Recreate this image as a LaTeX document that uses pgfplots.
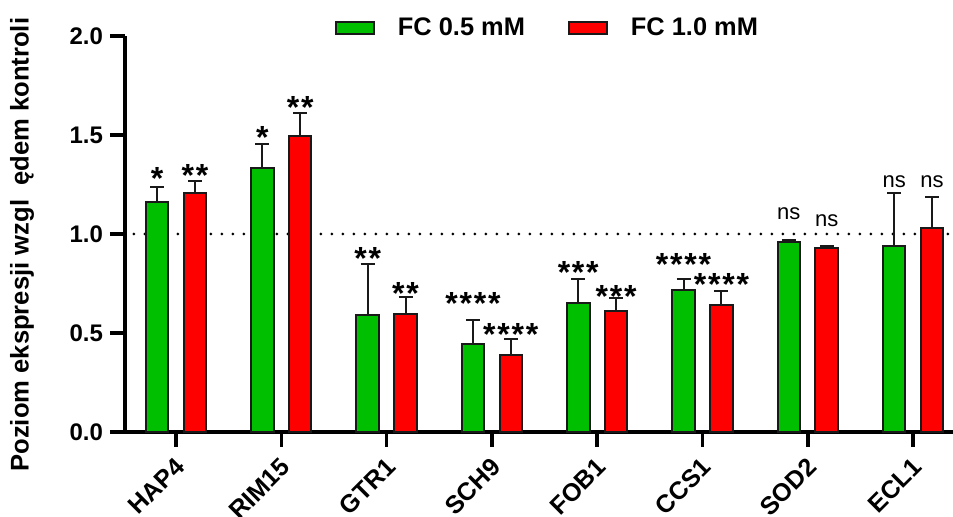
\documentclass[border=0pt]{standalone}
\usepackage{pgfplots}
\usepackage{pgfplotstable}
\pgfplotsset{compat=1.18}
\usepackage{fontspec}
\setmainfont{Liberation Sans}
\definecolor{pgreen}{RGB}{0,191,0}
\definecolor{pred}{RGB}{255,0,0}
\definecolor{edge}{RGB}{25,25,25}
\newcommand{\ns}{\mdseries\fontsize{11}{13}\selectfont ns}
\newcommand{\starfont}{\bfseries\fontsize{16}{18}\selectfont\spaceskip=0.9pt\relax}

\pgfplotstableread[col sep=comma]{
x,y,e,ly,lab
0,1.163,0.074,1.223,*
1,1.331,0.124,1.434,*
2,0.589,0.259,0.819,* *
3,0.444,0.122,0.592,* * * *
4,0.653,0.118,0.749,* * *
5,0.717,0.056,0.789,* * * *
6,0.958,0.013,1.072,\ns
7,0.941,0.264,1.233,\ns
}\greentab

\pgfplotstableread[col sep=comma]{
x,y,e,ly,lab
0,1.209,0.057,1.240,* *
1,1.497,0.112,1.581,* *
2,0.596,0.087,0.643,* *
3,0.390,0.081,0.438,* * * *
4,0.611,0.064,0.631,* * *
5,0.641,0.073,0.690,* * * *
6,0.929,0.010,1.038,\ns
7,1.032,0.156,1.234,\ns
}\redtab

\begin{document}
\begin{tikzpicture}
\begin{axis}[
 name=ax, at={(0,0)}, anchor=south west,
 width=414pt, height=198pt, scale only axis,
 xmin=-0.484, xmax=7.379, ymin=0, ymax=2,
 axis x line*=bottom, axis y line*=left,
 axis line style={line width=1.75pt, -},
 ytick={0,0.5,1,1.5,2},
 xtick={0,...,7},
 xticklabels={HAP4,RIM15,GTR1,SCH9,FOB1,CCS1,SOD2,ECL1},
 tick style={line width=1.75pt, black},
 tick align=outside, major tick length=7.5pt,
 /pgf/number format/assume math mode=true,
 yticklabel style={font=\bfseries\fontsize{12}{14}\selectfont,
   /pgf/number format/fixed, /pgf/number format/fixed zerofill, /pgf/number format/precision=1},
 xticklabel style={font=\bfseries\fontsize{12.5}{14}\selectfont, xshift=-1pt, yshift=-4.5pt, rotate=45, anchor=north east, inner sep=0pt},
 ylabel={Poziom ekspresji wzgl\ \ ędem kontroli},
 ylabel style={font=\bfseries\fontsize{12.8}{14}\selectfont, at={(axis description cs:-0.1244,0.473)}, anchor=center},
 legend style={draw=none, fill=none, at={(rel axis cs:0.509,1.0202)}, anchor=center,
   font=\bfseries\fontsize{12.7}{14}\selectfont, nodes={inner sep=0pt},
   /tikz/every even column/.append style={column sep=21.5pt},
   /tikz/every odd column/.append style={column sep=11.5pt}},
 legend columns=2,
 clip=false,
]
\addplot[forget plot, line width=1.5pt, line cap=round, dash pattern=on 0pt off 5.5pt] coordinates {(-0.40,1) (7.379,1)};

\addplot[ybar, bar width=0.214, bar shift=0pt, fill=pgreen, draw=edge, line width=1pt,
  legend image code/.code={\draw[fill=pgreen, draw=edge, line width=1pt] (0pt,-3pt) rectangle (19pt,3pt);},
  error bars/.cd, y dir=plus, y explicit,
  error bar style={line width=1pt, edge},
  error mark options={rotate=90, mark size=3.5pt, line width=1pt, edge}]
  table[x expr=\thisrow{x}-0.18, y=y, y error=e]{\greentab};
\addlegendentry{FC 0.5 mM}

\addplot[ybar, bar width=0.214, bar shift=0pt, fill=pred, draw=edge, line width=1pt,
  legend image code/.code={\draw[fill=pred, draw=edge, line width=1pt] (0pt,-3pt) rectangle (19pt,3pt);},
  error bars/.cd, y dir=plus, y explicit,
  error bar style={line width=1pt, edge},
  error mark options={rotate=90, mark size=3.5pt, line width=1pt, edge}]
  table[x expr=\thisrow{x}+0.18, y=y, y error=e]{\redtab};
\addlegendentry{FC 1.0 mM}

\addplot[forget plot, draw=none, mark=none, nodes near coords, point meta=explicit symbolic,
  nodes near coords style={anchor=base, inner sep=0pt, font=\starfont, text=black}]
  table[x expr=\thisrow{x}-0.18, y=ly, meta=lab]{\greentab};
\addplot[forget plot, draw=none, mark=none, nodes near coords, point meta=explicit symbolic,
  nodes near coords style={anchor=base, inner sep=0pt, font=\starfont, text=black}]
  table[x expr=\thisrow{x}+0.18, y=ly, meta=lab]{\redtab};
\end{axis}
\pgfresetboundingbox
\path[use as bounding box] (-62.5pt,-42.5pt) rectangle (414pt,216pt);
\end{tikzpicture}
\end{document}
